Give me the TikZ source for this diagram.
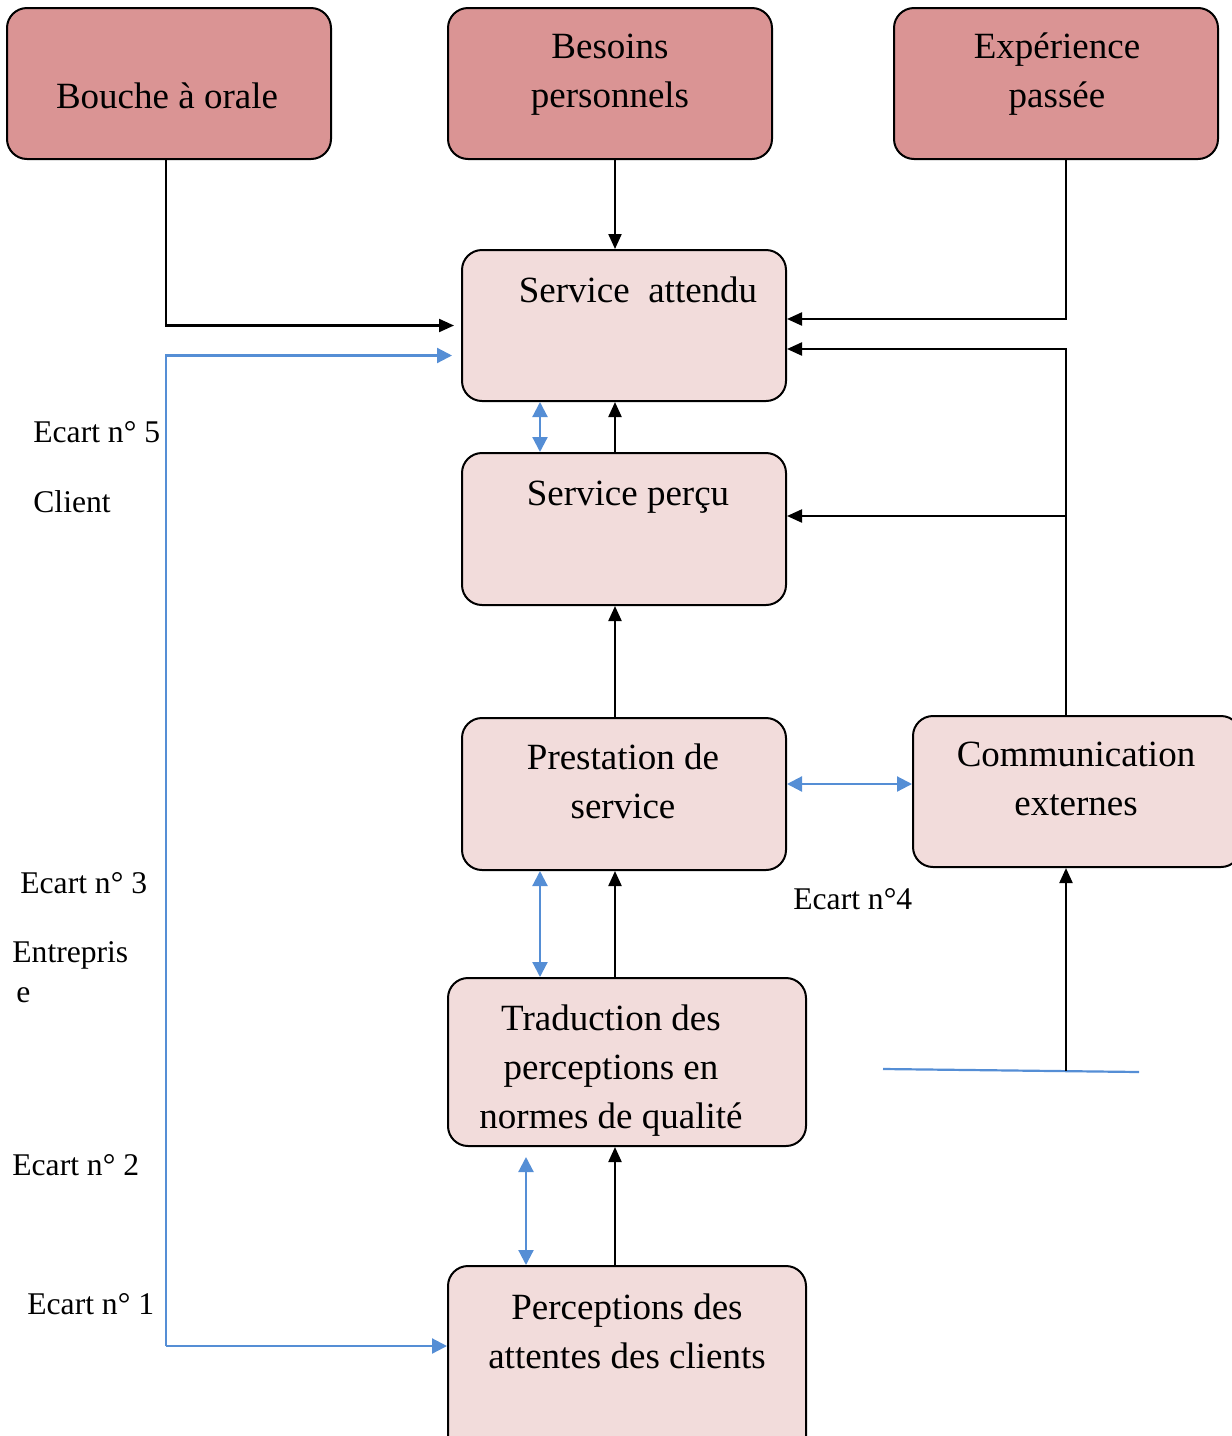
\documentclass[tikz,border=0pt]{standalone}
\usepackage{fontspec}
\setmainfont{Liberation Serif}
\usetikzlibrary{arrows.meta}

\definecolor{headfill}{RGB}{218,148,148}
\definecolor{boxfill}{RGB}{242,220,219}
\definecolor{gapblue}{RGB}{85,142,213}

\newcommand{\lines}[1]{\begin{tabular}[b]{@{}c@{}}#1\end{tabular}}

\tikzset{
  box/.style={draw=black, line width=1pt, rounded corners=10pt, inner sep=0pt},
  head/.style={box, fill=headfill, minimum width=162pt, minimum height=75.5pt},
  stage/.style={box, fill=boxfill},
  txt/.style={font=\fontsize{18.5}{24.3}\selectfont, anchor=base, inner sep=0pt},
  lbl/.style={font=\fontsize{15.8}{20}\selectfont, anchor=base west, inner sep=0pt},
  flow/.style={line width=1.1pt, -{Triangle[length=7.5pt,width=6.5pt]}},
  gap/.style={draw=gapblue, line width=1.1pt, -{Triangle[length=7.5pt,width=7.5pt,fill=gapblue]}},
  gapboth/.style={draw=gapblue, line width=1.1pt,
    {Triangle[length=7.5pt,width=7.5pt,fill=gapblue]}-{Triangle[length=7.5pt,width=7.5pt,fill=gapblue]}},
}

\begin{document}
\begin{tikzpicture}[x=0.5pt,y=-0.5pt]
\useasboundingbox (0,0) rectangle (1232,1436);
\clip (0,0) rectangle (1232,1436);

% source boxes
\node[head] (bouche) at (169,83.5) {};
\node[head] (besoins) at (610,83.5) {};
\node[head] (experience) at (1056,83.5) {};

% process boxes
\node[stage, minimum width=162pt, minimum height=75.5pt] (attendu) at (624,325.5) {};
\node[stage, minimum width=162pt, minimum height=76pt] (percu) at (624,529) {};
\node[stage, minimum width=162pt, minimum height=76pt] (prestation) at (624,794) {};
\node[stage, minimum width=164pt, minimum height=75.5pt] (comm) at (1077,791.5) {};
\node[stage, minimum width=179pt, minimum height=84pt] (traduction) at (627,1062) {};
\node[stage, minimum width=179pt, minimum height=95pt] (perceptions) at (627,1361) {};

% box texts
\node[txt] (t-bouche) at (167,108) {Bouche à orale};
\node[txt] (t-besoins) at (610,107) {\lines{Besoins\\personnels}};
\node[txt] (t-experience) at (1057,107) {\lines{Expérience\\passée}};
\node[txt] (t-attendu) at (638,302) {Service\ \ attendu};
\node[txt] (t-percu) at (628,505) {Service perçu};
\node[txt] (t-prestation) at (623,818) {\lines{Prestation de\\service}};
\node[txt] (t-comm) at (1076,815) {\lines{Communication\\externes}};
\node[txt] (t-traduction) at (611,1128) {\lines{Traduction des\\perceptions en\\normes de qualité}};
\node[txt] (t-perceptions) at (627,1368) {\lines{Perceptions des\\attentes des clients}};

% gap labels
\node[lbl] (e5) at (33,442) {Ecart n° 5};
\node[lbl] (client) at (33,512) {Client};
\node[lbl] (e3) at (20,893) {Ecart n° 3};
\node[lbl] (ent1) at (12,962) {Entrepris};
\node[lbl] (ent2) at (16,1002) {e};
\node[lbl] (e4) at (793,909) {Ecart n°4};
\node[lbl] (e2) at (12,1175) {Ecart n° 2};
\node[lbl] (e1) at (27,1314) {Ecart n° 1};

% guide coordinates
\coordinate (spine) at (615,0);
\coordinate (ext) at (1066,0);
\coordinate (left) at (166,0);
\coordinate (loop) at (166,1346);

% influences on the expected service
\draw[flow, shorten >=3.5pt] (bouche.south -| left) |- (attendu.west);
\draw[flow] (besoins.south -| spine) -- (attendu.north -| spine);
\draw[flow] (experience.south -| ext) |- ([yshift=3.25pt]attendu.east);
\draw[flow] (comm.north -| ext) |- ([yshift=-11.75pt]attendu.east);
\draw[flow] (ext |- percu.east) ++(0,-13) coordinate (branch) -- (branch -| percu.east);

% main flow upwards
\draw[flow] (percu.north -| spine) -- (attendu.south -| spine);
\draw[flow] (prestation.north -| spine) -- (percu.south -| spine);
\draw[flow] (traduction.north -| spine) -- (prestation.south -| spine);
\draw[flow] (perceptions.north -| spine) -- (traduction.south -| spine);

% blue line below the external communication
\coordinate (base) at (1066,1071);
\draw[gapblue, line width=1.1pt] (883,1069) -- (1139,1072);
\draw[flow] (base) -- (comm.south -| base);

% gaps
\draw[gapboth] (540,0 |- attendu.south) -- (540,0 |- percu.north);
\draw[gapboth] (540,0 |- prestation.south) -- (540,0 |- traduction.north);
\draw[gapboth] (526,1157) -- (526,0 |- perceptions.north);
\draw[gapboth] (prestation.east |- 0,784) -- (comm.west |- 0,784);
\draw[gap] (loop) -- (perceptions.west |- loop);
\draw[gap, shorten >=4.5pt] (loop) |- ([yshift=-15pt]attendu.west);
\end{tikzpicture}
\end{document}
